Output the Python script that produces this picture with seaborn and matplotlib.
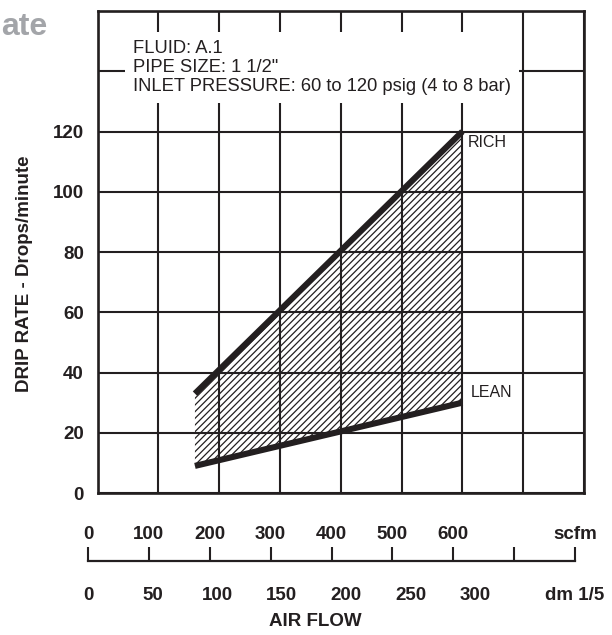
import numpy as np
import pandas as pd
import matplotlib
matplotlib.use("Agg")
import matplotlib.pyplot as plt
import seaborn as sns

# chart values (x in scfm, y in drops/minute)
flow_scfm = [160, 600]
rich = [33, 120]
lean = [9, 30]

grid_x = [0, 100, 200, 300, 400, 500, 600, 700, 800]
grid_y = [0, 20, 40, 60, 80, 100, 120, 140, 160]
y_labels = ["0", "20", "40", "60", "80", "100", "120", "", ""]

scfm_ticks = [0, 100, 200, 300, 400, 500, 600, 700, 800]
scfm_labels = ["0", "100", "200", "300", "400", "500", "600", "", "scfm"]
dm_ticks = [0, 50, 100, 150, 200, 250, 300, 350]
dm_labels = ["0", "50", "100", "150", "200", "250", "300", ""]
dm_per_scfm = 0.47195

info = "FLUID: A.1\nPIPE SIZE: 1 1/2\"\nINLET PRESSURE: 60 to 120 psig (4 to 8 bar)"

sns.set_style("white")
plt.rcParams["font.family"] = ["Liberation Sans", "DejaVu Sans"]
plt.rcParams["hatch.linewidth"] = 0.9
ink = "#231f20"

df = pd.DataFrame({"flow": flow_scfm, "RICH": rich, "LEAN": lean})

fig = plt.figure(figsize=(6.12, 6.35), dpi=100)
ax = fig.add_axes([0.1596, 0.2236, 0.7946, 0.759])

ax.set_xlim(0, 800)
ax.set_ylim(0, 160)
ax.set_xticks(grid_x)
ax.set_yticks(grid_y, labels=y_labels)
ax.tick_params(axis="x", length=0, labelbottom=False)
ax.tick_params(axis="y", length=0, pad=10, labelsize=13.5, labelcolor=ink)
for lab in ax.get_yticklabels():
    lab.set_fontweight("bold")
ax.grid(True, color=ink, linewidth=1.5)
ax.set_axisbelow(True)
for sp in ax.spines.values():
    sp.set_color(ink)
    sp.set_linewidth(1.9)
    sp.set_zorder(5)

ax.fill_between(df["flow"], df["LEAN"], df["RICH"], facecolor="none",
                edgecolor=ink, hatch="/////", linewidth=0, zorder=2)
sns.lineplot(data=df, x="flow", y="RICH", ax=ax, color=ink, linewidth=4.4,
             solid_capstyle="butt", zorder=3)
sns.lineplot(data=df, x="flow", y="LEAN", ax=ax, color=ink, linewidth=4.4,
             solid_capstyle="butt", zorder=3)

ax.annotate("RICH", (flow_scfm[-1], rich[-1]), xytext=(4, -8),
            textcoords="offset points", va="center", fontsize=11.5, color=ink)
ax.annotate("LEAN", (flow_scfm[-1], lean[-1]), xytext=(6, 7),
            textcoords="offset points", va="center", fontsize=11.5, color=ink)

ax.text(0.073, 0.940, info, transform=ax.transAxes, va="top", ha="left",
        fontsize=13.2, color=ink, linespacing=1.14, zorder=4,
        bbox=dict(boxstyle="square,pad=0.45", facecolor="white", edgecolor="none"))

ax.set_xlabel("")
ax.set_ylabel("DRIP RATE - Drops/minute", fontsize=13.5, fontweight="bold", color=ink)
ax.yaxis.set_label_coords(-0.133, 0.454)

# double scale below the chart: dm ticks hang down, scfm ticks stand up
scale_box = [0.1438, 0.1165, 0.7958, 0.022]
ax_d = fig.add_axes(scale_box)
ax_s = fig.add_axes(scale_box)
for a in (ax_d, ax_s):
    a.set_xlim(0, 800)
    a.set_ylim(0, 1)
    a.set_yticks([])
    a.patch.set_alpha(0)
    for s in a.spines.values():
        s.set_visible(False)
ax_d.spines["bottom"].set_visible(True)
ax_d.spines["bottom"].set_color(ink)
ax_d.spines["bottom"].set_linewidth(1.6)

dm_pos = [d / dm_per_scfm for d in dm_ticks] + [800]
ax_d.set_xticks(dm_pos, labels=dm_labels + ["dm 1/5"])
ax_d.tick_params(axis="x", direction="out", length=11.5, width=1.5, color=ink,
                 pad=7, labelsize=13.5, labelcolor=ink)
for lab in ax_d.get_xticklabels():
    lab.set_fontweight("bold")

ax_s.set_xticks(scfm_ticks, labels=scfm_labels)
ax_s.tick_params(axis="x", direction="in", length=10, width=1.5, color=ink,
                 bottom=True, top=False, labelbottom=False, labeltop=True,
                 pad=3, labelsize=13.5, labelcolor=ink)
for lab in ax_s.get_xticklabels():
    lab.set_fontweight("bold")

fig.text(0.515, 0.0205, "AIR FLOW", ha="center", va="center", fontsize=13.5,
         fontweight="bold", color=ink)
fig.text(1 / 612, 1 - 35 / 635, "ate", ha="left", va="baseline", fontsize=23,
         fontweight="bold", color="#a3a5a9")

fig.savefig("out.png", dpi=100)
